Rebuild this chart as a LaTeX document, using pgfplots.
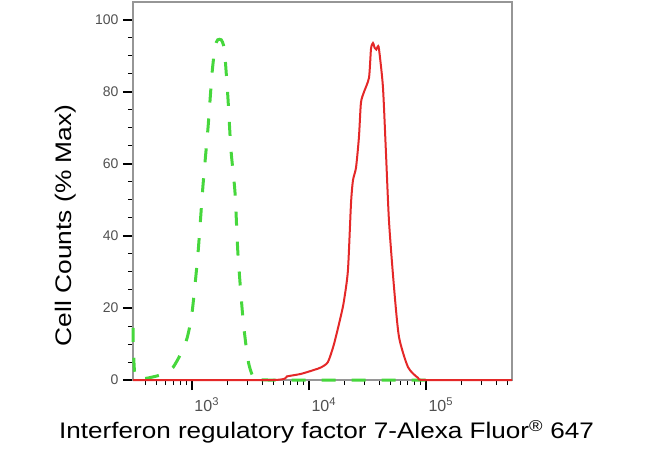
\documentclass[border=0pt]{standalone}
\usepackage{fontspec}
\setmainfont{Liberation Sans}
\usepackage{graphicx}
\usepackage{pgfplots}
\pgfplotsset{compat=1.18}
\definecolor{cgreen}{RGB}{70,215,60}
\definecolor{cred}{RGB}{228,40,40}
\definecolor{axgray}{RGB}{150,150,150}
\definecolor{tickgray}{RGB}{80,80,80}
\begin{document}
\begin{tikzpicture}
\path (-133bp,-71bp) rectangle (517bp,380bp);
\begin{axis}[
  scale only axis, width=379bp, height=378bp,
  xmin=2.496, xmax=5.735, ymin=0, ymax=105,
  axis line style={axgray, line width=1.2bp},
  xtick={3,4,5},
  xticklabels={10\textsuperscript{3},10\textsuperscript{4},10\textsuperscript{5}},
  minor xtick={2.602,2.699,2.778,2.845,2.903,2.954,
    3.301,3.477,3.602,3.699,3.778,3.845,3.903,3.954,
    4.301,4.477,4.602,4.699,4.778,4.845,4.903,4.954,
    5.301,5.477,5.602,5.699},
  ytick={0,20,40,60,80,100},
  minor y tick num=3,
  tick align=outside, xtick pos=left, ytick pos=left,
  major tick length=10bp, minor tick length=5bp,
  every major tick/.style={black, line width=2.2bp},
  every minor tick/.style={black, line width=1bp},
  yticklabel style={font=\fontsize{14bp}{14bp}\selectfont, text=tickgray, xshift=-1bp},
  xticklabel style={font=\fontsize{16bp}{16bp}\selectfont, text=tickgray, anchor=north west, xshift=-1bp, yshift=-4bp},
  /pgf/number format/assume math mode=true,
  clip=false,
  xlabel={\scalebox{1.16}[1]{Interferon regulatory factor 7-Alexa Fluor\textsuperscript{®} 647}},
  ylabel={\scalebox{1.17}[1]{Cell Counts (\% Max)}},
  label style={font=\fontsize{22.5bp}{27bp}\selectfont, text=black},
  xlabel style={at={(axis description cs:0.5106,-0.156)}, anchor=base},
  ylabel style={at={(axis description cs:-0.161,0.409)}, anchor=base, rotate=0},
]
\addplot[cgreen, line width=3bp, dash pattern=on 14bp off 16bp, smooth, tension=0.4] coordinates {
(2.496,14.5) (2.50,8) (2.51,2) (2.53,0.3) (2.615,0.5) (2.709,1.2) (2.78,2)
(2.838,3.5) (2.90,7) (2.957,11.5) (3.0,18.5) (3.051,35) (3.094,54) (3.137,70)
(3.171,85) (3.197,92.5) (3.22,94.5) (3.25,94.5) (3.27,93) (3.282,90) (3.308,78)
(3.333,64) (3.368,52) (3.393,35) (3.436,17) (3.479,5.5) (3.521,1) (3.581,0.3)
(3.65,0) (5.0,0)
};
\addplot[cred, line width=2bp, smooth, tension=0.4] coordinates {
(2.496,0) (3.692,0) (3.812,1) (3.932,1.7) (4.043,2.8) (4.103,3.5) (4.162,5)
(4.214,10) (4.274,18) (4.299,22) (4.333,30.5) (4.359,49) (4.376,55.5) (4.402,59)
(4.427,67.5) (4.444,77) (4.470,80) (4.513,84) (4.530,92) (4.547,93.6) (4.562,92.2)
(4.575,91.8) (4.587,92.6) (4.598,92) (4.632,81.4) (4.658,63) (4.684,44)
(4.726,26) (4.769,12) (4.846,3.6) (4.932,0.6) (5.0,0) (5.735,0)
};
\end{axis}
\end{tikzpicture}
\end{document}
